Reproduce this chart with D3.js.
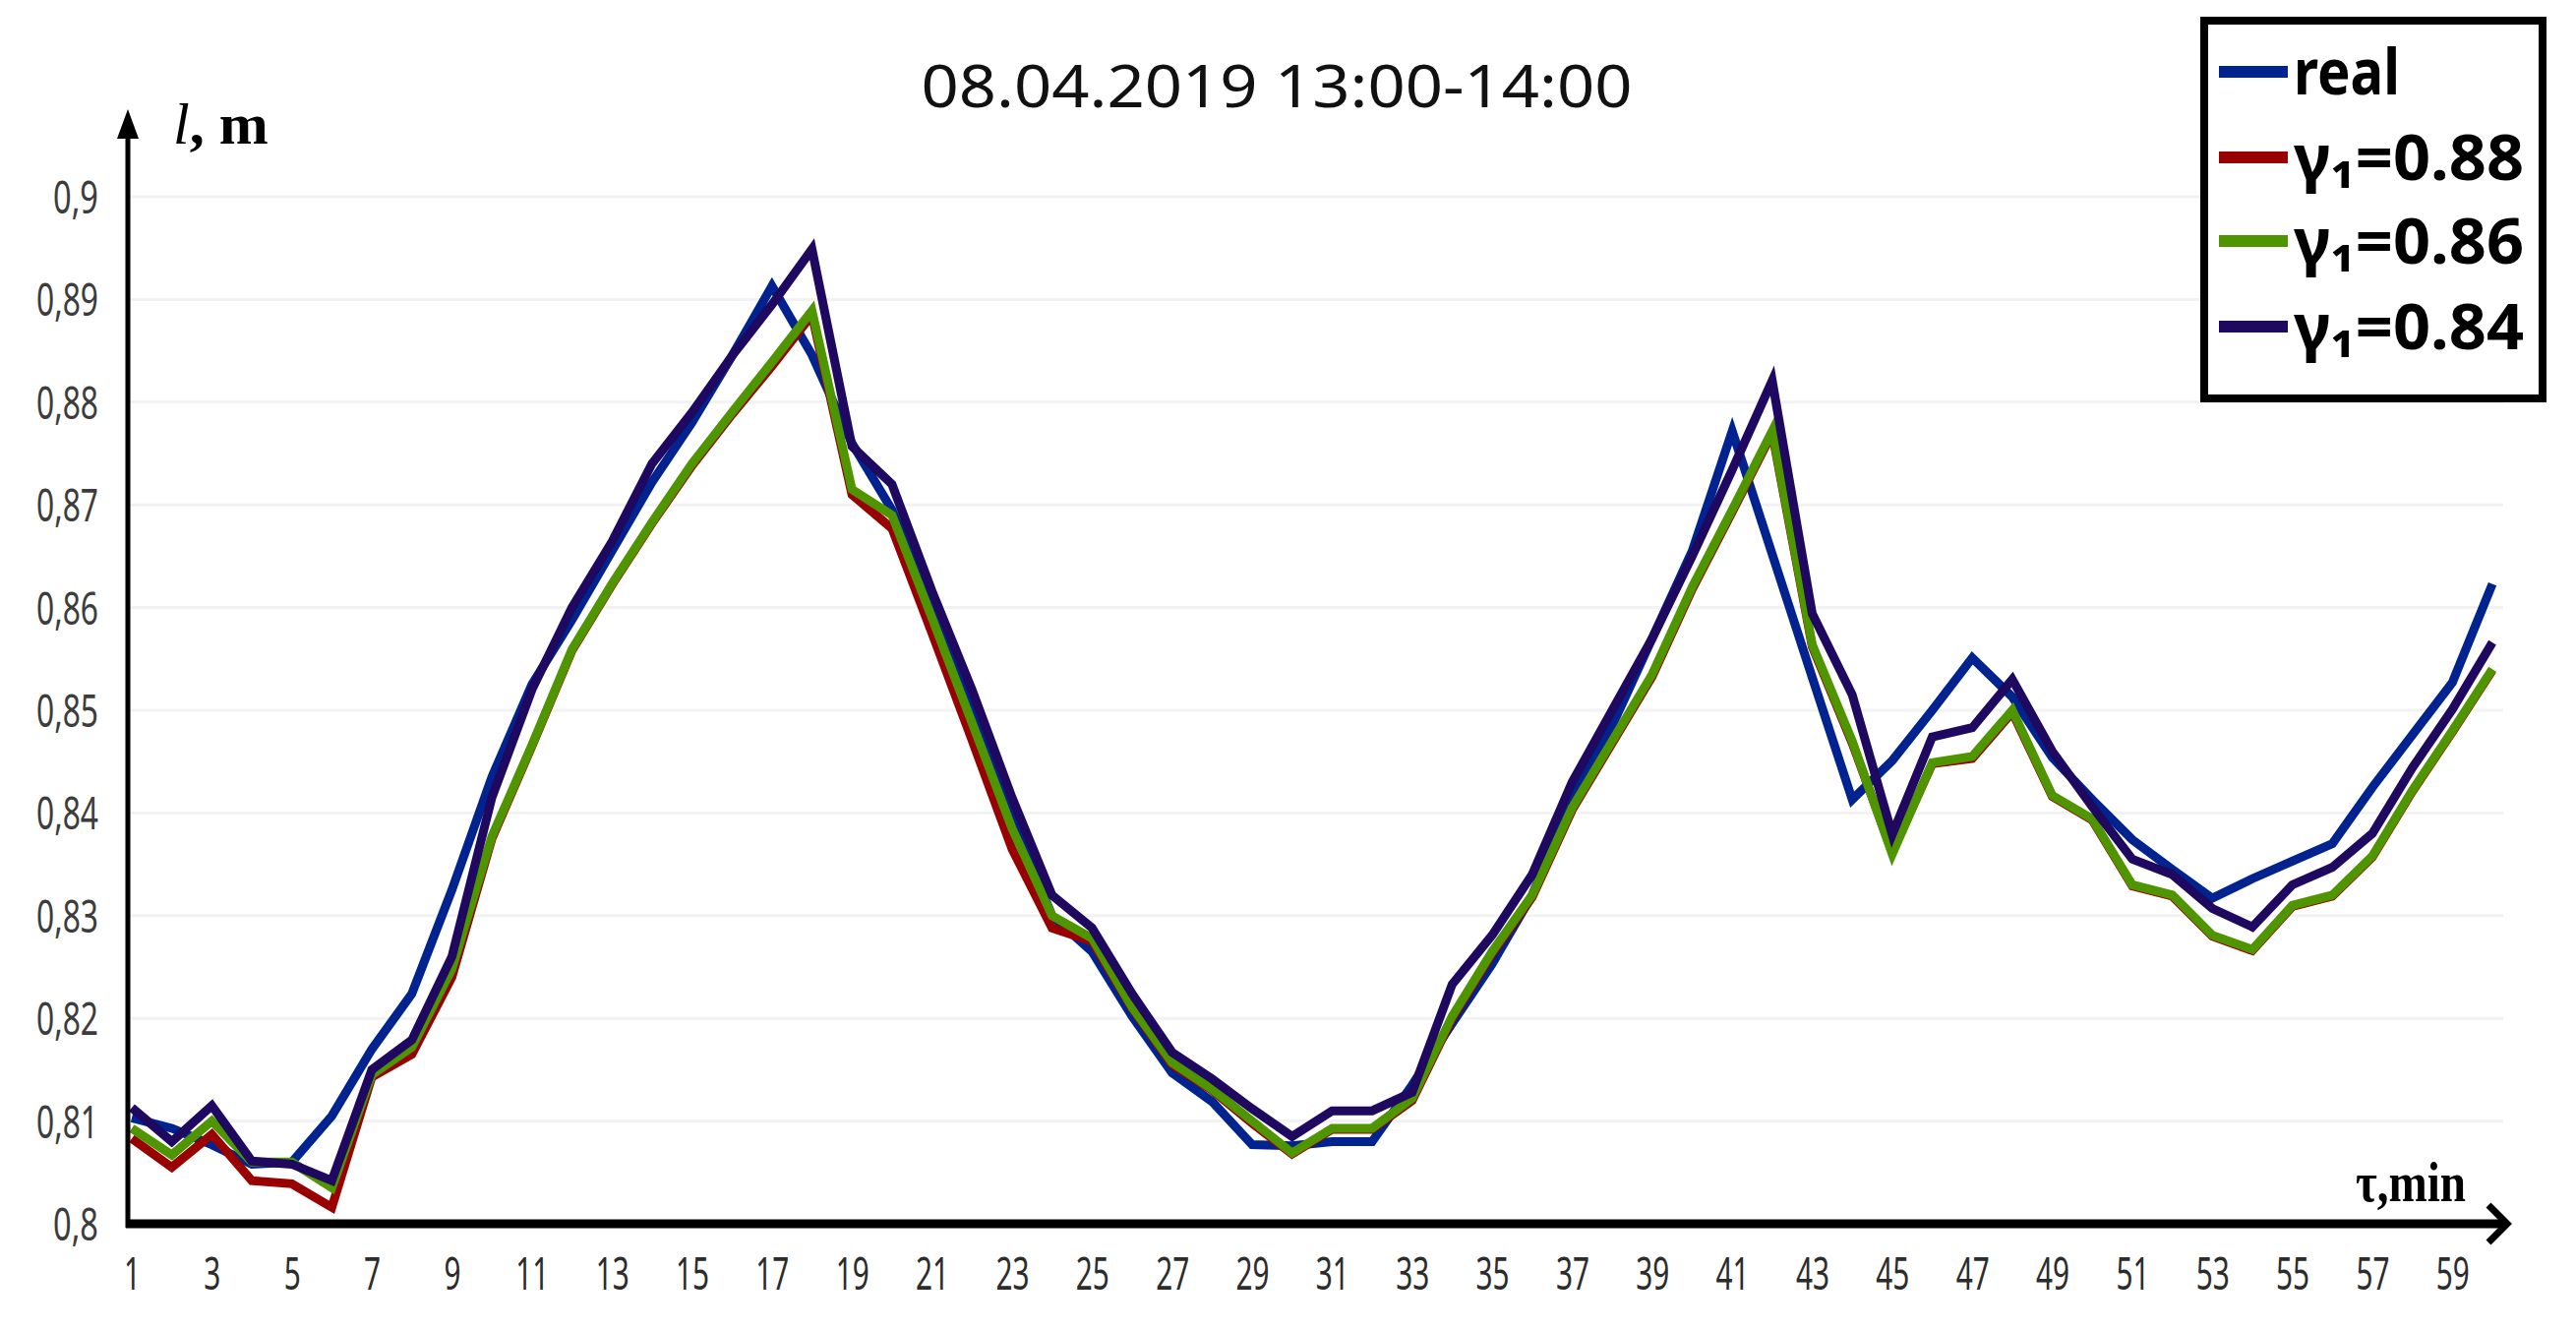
<!DOCTYPE html>
<html>
<head>
<meta charset="utf-8">
<script src="https://cdn.jsdelivr.net/npm/d3@7"></script>
<style>
  body { margin: 0; background: #fff; }
</style>
</head>
<body>
<div id="chart"></div>
<script>
const minutes = [1, 2, 3, 4, 5, 6, 7, 8, 9, 10, 11, 12, 13, 14, 15, 16, 17, 18, 19, 20,
    21, 22, 23, 24, 25, 26, 27, 28, 29, 30, 31, 32, 33, 34, 35, 36, 37, 38, 39, 40,
    41, 42, 43, 44, 45, 46, 47, 48, 49, 50, 51, 52, 53, 54, 55, 56, 57, 58, 59, 60]

const real = [0.8103, 0.8093, 0.8077, 0.8058, 0.806, 0.8105, 0.817, 0.8224, 0.8325, 0.8435,
    0.8525, 0.8588, 0.8655, 0.8722, 0.878, 0.8845, 0.8913, 0.8846, 0.876, 0.8695,
    0.8605, 0.85, 0.8395, 0.830, 0.8265, 0.8202, 0.8147, 0.8119, 0.8077, 0.8076,
    0.808, 0.808, 0.8135, 0.8195, 0.8253, 0.832, 0.8415, 0.8485, 0.857, 0.8655,
    0.8772, 0.8652, 0.8532, 0.8413, 0.8451, 0.85, 0.8551, 0.8513, 0.8454, 0.8413,
    0.8374, 0.8345, 0.8317, 0.8336, 0.8353, 0.837, 0.8425, 0.8476, 0.8527, 0.8623]

const gamma088 = [0.8083, 0.8055, 0.8087, 0.8042, 0.8039, 0.8016, 0.8143, 0.8165, 0.824, 0.8375,
    0.8465, 0.8558, 0.8622, 0.8682, 0.8738, 0.8788, 0.8835, 0.8885, 0.871, 0.8677,
    0.8575, 0.8471, 0.8365, 0.8288, 0.8275, 0.821, 0.8155, 0.813, 0.8098, 0.8068,
    0.8092, 0.8092, 0.812, 0.82, 0.8263, 0.8318, 0.8403, 0.8468, 0.8533, 0.8618,
    0.8693, 0.877, 0.8562, 0.8468, 0.8362, 0.8448, 0.8453, 0.8498, 0.8416, 0.8393,
    0.8329, 0.8319, 0.828, 0.8266, 0.8309, 0.8319, 0.8357, 0.8421, 0.8479, 0.8539]

const gamma086 = [0.8093, 0.8067, 0.810, 0.806, 0.806, 0.8035, 0.8145, 0.8172, 0.8248, 0.8377,
    0.8466, 0.8559, 0.8623, 0.8683, 0.874, 0.879, 0.8839, 0.8889, 0.8715, 0.869,
    0.859, 0.8488, 0.8385, 0.830, 0.8278, 0.8211, 0.8157, 0.8131, 0.810, 0.8069,
    0.8093, 0.8093, 0.8122, 0.8202, 0.8265, 0.832, 0.8405, 0.847, 0.8535, 0.862,
    0.8695, 0.8772, 0.8564, 0.847, 0.836, 0.8449, 0.8455, 0.850, 0.8417, 0.8394,
    0.833, 0.832, 0.8281, 0.8267, 0.831, 0.832, 0.8358, 0.8422, 0.848, 0.854]

const gamma084 = [0.8113, 0.808, 0.8115, 0.8061, 0.8058, 0.8042, 0.815, 0.8179, 0.826, 0.8415,
    0.852, 0.860, 0.8664, 0.874, 0.879, 0.8845, 0.8895, 0.8949, 0.8757, 0.872,
    0.8616, 0.852, 0.8415, 0.832, 0.8288, 0.8224, 0.8167, 0.8141, 0.8112, 0.8085,
    0.811, 0.811, 0.8128, 0.8233, 0.8281, 0.834, 0.843, 0.850, 0.857, 0.865,
    0.8734, 0.8821, 0.8594, 0.8515, 0.8379, 0.8474, 0.8483, 0.853, 0.846, 0.8406,
    0.8355, 0.834, 0.8307, 0.8289, 0.833, 0.8347, 0.838, 0.8444, 0.8501, 0.8566]

const seriesNames = ['real', 'γ₁=0.88', 'γ₁=0.86', 'γ₁=0.84']
const seriesColors = ['#00238f', '#990000', '#4f9500', '#1e0860']

const xTicks = [1, 3, 5, 7, 9, 11, 13, 15, 17, 19, 21, 23, 25, 27, 29,
    31, 33, 35, 37, 39, 41, 43, 45, 47, 49, 51, 53, 55, 57, 59]
const yTicks = [0.8, 0.81, 0.82, 0.83, 0.84, 0.85, 0.86, 0.87, 0.88, 0.89, 0.9]

const title = '08.04.2019 13:00-14:00'

const W = 2619
const H = 1353

const x = d3.scaleLinear().domain([1, 60]).range([134, 2534])
const y = d3.scaleLinear().domain([0.8, 0.9]).range([1244, 200])
const axisX = 130

const svg = d3.select('#chart').append('svg')
    .attr('width', W)
    .attr('height', H)
    .style('display', 'block')

svg.append('rect').attr('width', W).attr('height', H).attr('fill', '#fff')

// light grid
svg.append('g')
    .selectAll('line')
    .data(yTicks.slice(1))
    .join('line')
    .attr('x1', axisX)
    .attr('x2', 2545)
    .attr('y1', d => y(d))
    .attr('y2', d => y(d))
    .attr('stroke', '#f2f2f2')
    .attr('stroke-width', 3)

// title
svg.append('text')
    .attr('x', 1298)
    .attr('y', 109)
    .attr('text-anchor', 'middle')
    .attr('font-family', 'Noto Sans, sans-serif')
    .attr('font-size', 60)
    .attr('fill', '#111')
    .attr('textLength', 723)
    .attr('lengthAdjust', 'spacingAndGlyphs')
    .text(title)

// y axis labels
const fmt = d => d3.format('.2~f')(d).replace('.', ',')
const yAxis = d3.axisLeft(y).tickValues(yTicks).tickSize(0).tickPadding(30).tickFormat(fmt)
const gy = svg.append('g')
    .attr('transform', `translate(${axisX},0)`)
    .call(yAxis)
gy.select('.domain').remove()
gy.selectAll('text')
    .attr('font-family', 'Noto Sans, sans-serif')
    .attr('font-size', 46)
    .attr('fill', '#3c3c3c')
    .attr('dy', '0.36em')
    .attr('textLength', d => fmt(d).length === 3 ? 46 : 63)
    .attr('lengthAdjust', 'spacingAndGlyphs')

// x axis labels
const xAxis = d3.axisBottom(x).tickValues(xTicks).tickSize(0).tickPadding(34).tickFormat(d => d)
const gx = svg.append('g')
    .attr('transform', `translate(0,${y(0.8)})`)
    .call(xAxis)
gx.select('.domain').remove()
gx.selectAll('text')
    .attr('font-family', 'Noto Sans, sans-serif')
    .attr('font-size', 46)
    .attr('fill', '#2c2c2c')
    .attr('textLength', d => String(d).length === 1 ? 17 : 34)
    .attr('lengthAdjust', 'spacingAndGlyphs')

// series lines
const line = d3.line()
    .x((d, i) => x(minutes[i]))
    .y(d => y(d))

svg.append('g')
    .selectAll('path')
    .data([real, gamma088, gamma086, gamma084])
    .join('path')
    .attr('d', line)
    .attr('fill', 'none')
    .attr('stroke', (d, i) => seriesColors[i])
    .attr('stroke-width', 9)
    .attr('stroke-linejoin', 'miter')

// axes with arrows
svg.append('line')
    .attr('x1', axisX).attr('x2', axisX)
    .attr('y1', y(0.8) + 4).attr('y2', 125)
    .attr('stroke', '#000').attr('stroke-width', 5)
svg.append('path')
    .attr('d', `M${axisX},111 L${axisX - 11},141 L${axisX + 11},141 Z`)
    .attr('fill', '#000')

svg.append('line')
    .attr('x1', axisX - 2).attr('x2', 2546)
    .attr('y1', y(0.8)).attr('y2', y(0.8))
    .attr('stroke', '#000').attr('stroke-width', 9)
svg.append('path')
    .attr('d', `M2530,${y(0.8) - 19} L2549,${y(0.8)} L2530,${y(0.8) + 19}`)
    .attr('fill', 'none')
    .attr('stroke', '#000')
    .attr('stroke-width', 7)

// axis names
const yName = svg.append('text')
    .attr('x', 176)
    .attr('y', 146)
    .attr('font-family', 'Liberation Serif, serif')
    .attr('font-size', 60)
    .attr('font-weight', 'bold')
    .attr('fill', '#000')
yName.append('tspan').attr('font-style', 'italic').attr('font-weight', 'normal').text('l')
yName.append('tspan').text(', m')

svg.append('text')
    .attr('x', 2395)
    .attr('y', 1221)
    .attr('font-family', 'Liberation Serif, serif')
    .attr('font-size', 58)
    .attr('font-weight', 'bold')
    .attr('fill', '#000')
    .attr('textLength', 112)
    .attr('lengthAdjust', 'spacingAndGlyphs')
    .text('τ,min')

// legend
const legend = svg.append('g')
legend.append('rect')
    .attr('x', 2241)
    .attr('y', 21)
    .attr('width', 344)
    .attr('height', 384)
    .attr('fill', '#fff')
    .attr('stroke', '#000')
    .attr('stroke-width', 8)

const legendY = [73, 160, 245, 332]
const item = legend.selectAll('.item')
    .data(seriesNames)
    .join('g')
    .attr('class', 'item')
    .attr('transform', (d, i) => `translate(2256,${legendY[i]})`)

item.append('line')
    .attr('x1', 0).attr('x2', 70)
    .attr('stroke', (d, i) => seriesColors[i])
    .attr('stroke-width', 12)

item.append('text')
    .attr('x', 76)
    .attr('dy', '0.36em')
    .attr('font-family', 'Noto Sans, sans-serif')
    .attr('font-size', 64)
    .attr('font-weight', 'bold')
    .attr('fill', '#000')
    .attr('textLength', d => d === 'real' ? 108 : 234)
    .attr('lengthAdjust', 'spacingAndGlyphs')
    .text(d => d)
</script>
</body>
</html>
